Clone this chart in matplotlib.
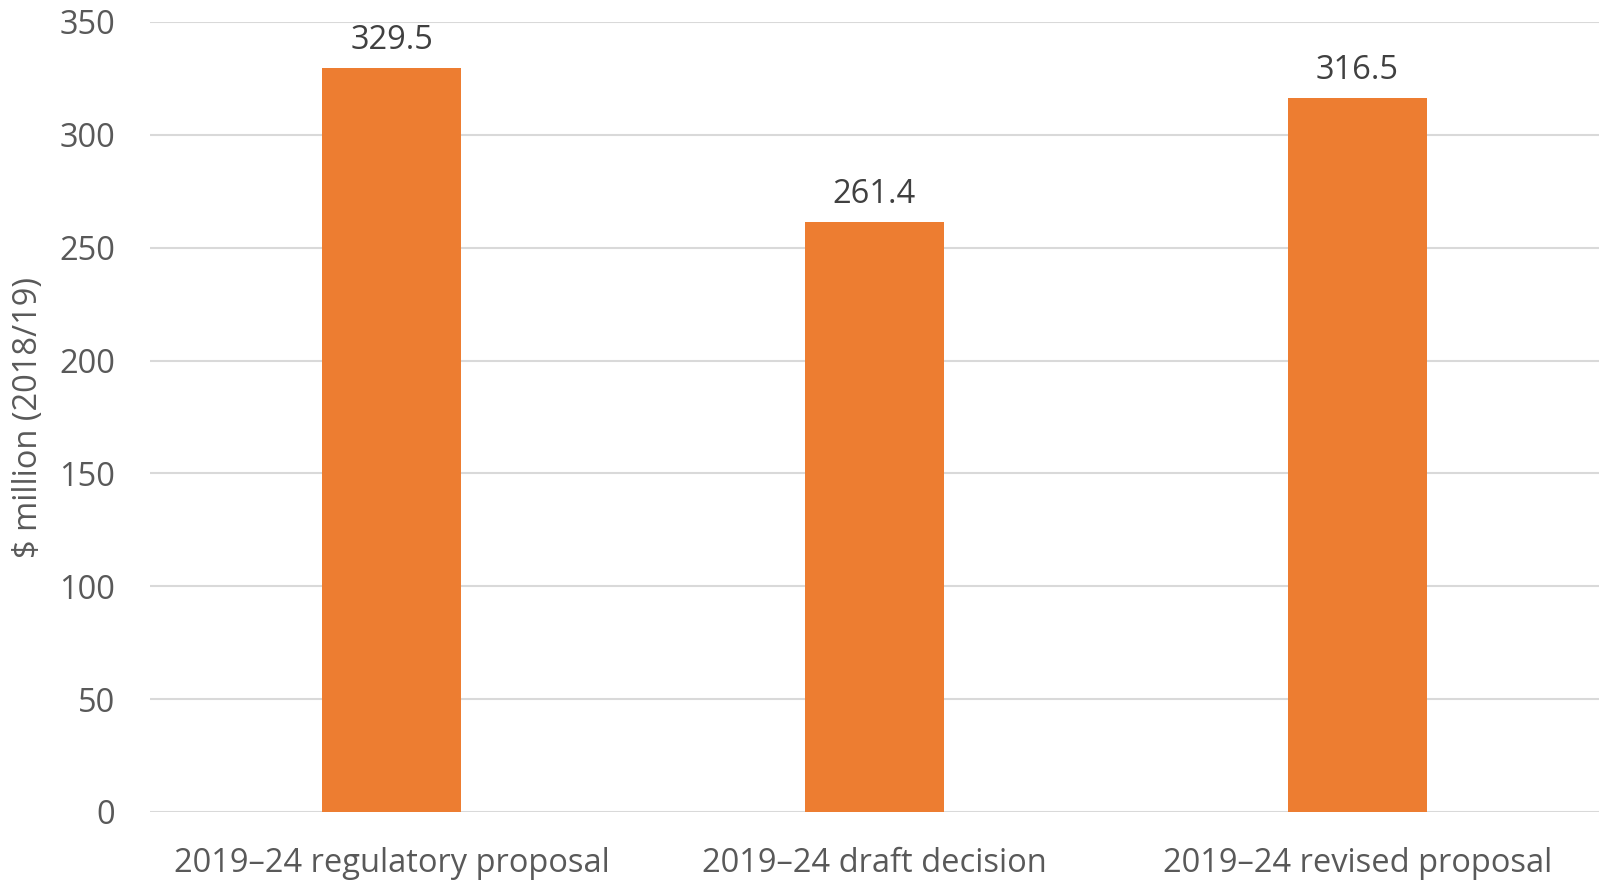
import matplotlib.pyplot as plt

plt.rcParams['font.family'] = ['Open Sans', 'DejaVu Sans']

categories = ["2019\u201324 regulatory proposal", "2019\u201324 draft decision", "2019\u201324 revised proposal"]
values = [329.5, 261.4, 316.5]
yticks = [0, 50, 100, 150, 200, 250, 300, 350]

fig = plt.figure(figsize=(15.99, 8.82), dpi=100)
ax = fig.add_axes([150 / 1599, 1 - 812 / 882, 1449 / 1599, 790 / 882])

x = list(range(len(categories)))
bars = ax.bar(x, values, width=0.288, color='#ed7d31', zorder=3)

# value labels above bars
for b, v in zip(bars, values):
    ax.annotate(f"{v:.1f}", (b.get_x() + b.get_width() / 2, v), xytext=(0, 8),
                textcoords='offset points', ha='center', va='bottom',
                fontsize=23.5, color='#404040')

ax.set_xlim(-0.5, 2.5)
ax.set_ylim(0, 350)
ax.set_yticks(yticks)
ax.set_xticks(x)
ax.set_xticklabels(categories)
ax.tick_params(axis='both', length=0, labelsize=23.5, colors='#595959')
ax.tick_params(axis='x', pad=25)
ax.tick_params(axis='y', pad=25)
ax.grid(axis='y', color='#d9d9d9', linewidth=1.5, zorder=0)
for s in ax.spines.values():
    s.set_visible(False)

lbl = ax.set_ylabel("\\$ million (2018/19)", fontsize=23.5, color='#595959')
lbl.set_va('center')
ax.yaxis.set_label_coords(-0.084, 0.5)

fig.savefig("out.png", dpi=100)
